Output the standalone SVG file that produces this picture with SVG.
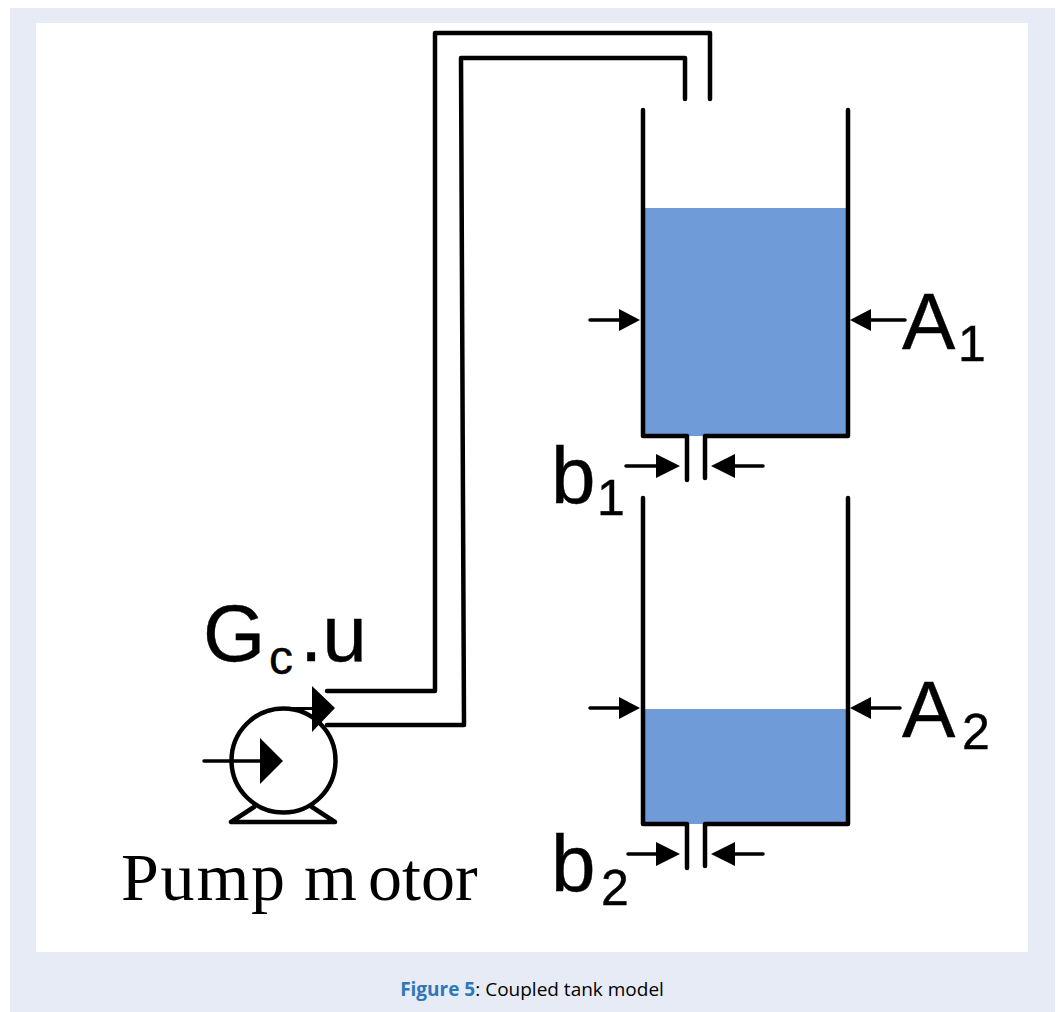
<svg xmlns="http://www.w3.org/2000/svg" width="1058" height="1012" viewBox="0 0 1058 1012">
<style>
.l{fill:none;stroke:#000;stroke-width:4.5;stroke-linecap:round;stroke-linejoin:round}
.a{fill:none;stroke:#000;stroke-width:3.5;stroke-linecap:round}
.h{fill:#000}
.w{fill:#6f9bd9}
.s{font-family:"Liberation Sans",Arial,sans-serif;fill:#000;stroke:#000;stroke-width:.4}
</style>
<rect x="10" y="8" width="1045" height="1004" fill="#e7ebf6"/>
<rect x="36" y="23" width="992" height="929" fill="#fff"/>
<g id="tank1">
<rect class="w" x="644" y="208" width="204" height="228"/>
<path class="l" d="M643 110V436H687V480M848 110V436H705V478"/>
</g>
<g id="tank2">
<rect class="w" x="644" y="709" width="204" height="115"/>
<path class="l" d="M643 498V824H687V868M848 498V824H705V866"/>
</g>
<g id="connectors">
<path class="l" d="M327 691H435V33H710V99"/>
<path class="l" d="M327 725H464L461 58H685V99"/>
<g id="dims">
<path class="a" d="M590 320H625M905 320H866M626 466H660M763 466H735M590 708H625M900 708H866M628 854H660M763 854H735"/>
<path class="h" d="M640 320L619 309V331ZM850 320L871 309V331ZM680 466L656 454V478ZM711 466L735 454V478ZM640 708L619 697V719ZM850 708L871 697V719ZM680 854L656 842V866ZM711 854L735 842V866Z"/>
</g>
</g>
<g id="pump">
<circle cx="283.500" cy="760.500" r="52" fill="none" stroke="#000" stroke-width="4.500"/>
<path class="l" d="M231 822H335L312 807M231 822L254 807"/>
<path class="a" d="M204 761H262"/>
<path class="h" d="M283 761L260 738V784ZM335 708L312 686V732ZM283 707H312V710H283Z"/>
</g>
<g id="labels">
<text class="s" x="203" y="661" font-size="80">G</text>
<text class="s" x="269" y="674" font-size="48">c</text>
<text class="s" x="300" y="661" font-size="80">.u</text>
<text y="900" font-family="Liberation Serif,serif" font-size="68"><tspan x="121" letter-spacing="1.800">Pump </tspan><tspan x="304">m</tspan><tspan x="368">otor</tspan></text>
<text class="s" x="902" y="349" font-size="80">A</text><text class="s" x="958" y="361" font-size="50">1</text>
<text class="s" x="902" y="737" font-size="80">A</text><text class="s" x="962" y="749" font-size="50">2</text>
<text class="s" x="551" y="503" font-size="80">b</text><text class="s" x="597" y="515" font-size="50">1</text>
<text class="s" x="551" y="891" font-size="80">b</text><text class="s" x="601" y="905" font-size="50">2</text>
</g>
<text x="532" y="996" text-anchor="middle" font-family="Open Sans,sans-serif" font-size="19"><tspan font-weight="700" fill="#2e77b8">Figure 5</tspan>: Coupled tank model</text>
</svg>
